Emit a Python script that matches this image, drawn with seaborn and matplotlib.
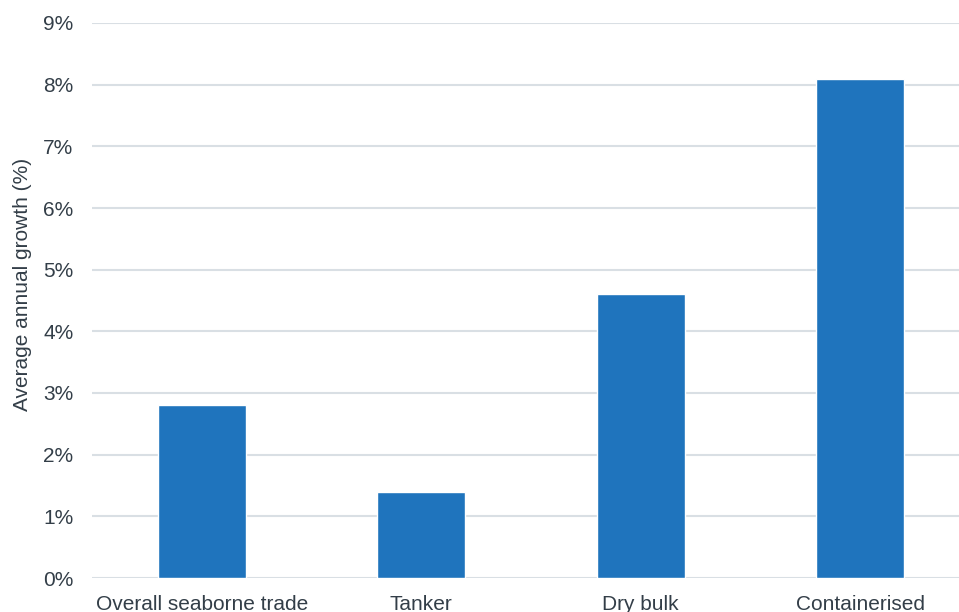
import matplotlib
matplotlib.use("Agg")
import matplotlib.pyplot as plt
import pandas as pd
import seaborn as sns
from matplotlib.ticker import FuncFormatter

categories = ["Overall seaborne trade", "Tanker", "Dry bulk", "Containerised"]
growth = [2.8, 1.4, 4.6, 8.1]
y_ticks = [0, 1, 2, 3, 4, 5, 6, 7, 8, 9]

df = pd.DataFrame({"category": categories, "growth": growth})

sns.set_theme(style="white")
plt.rcParams["font.family"] = ["Liberation Sans", "DejaVu Sans"]

text_color = "#333e48"
grid_color = "#d9dfe4"

fig = plt.figure(figsize=(9.59, 6.12), dpi=100)
ax = fig.add_axes([92 / 959, 34 / 612, 878 / 959, 555 / 612])

sns.barplot(data=df, x="category", y="growth", color="#1f74bd",
            width=0.4, saturation=1, ax=ax, zorder=3)

ax.set_xlim(-0.5, 3.5)
ax.set_ylim(0, 9)
ax.set_yticks(y_ticks)
ax.yaxis.set_major_formatter(FuncFormatter(lambda v, p: f"{v:.0f}%"))
ax.yaxis.grid(True, color=grid_color, linewidth=1.5, zorder=0)
ax.set_axisbelow(True)

for s in ax.spines.values():
    s.set_visible(False)

ax.tick_params(axis="y", length=0, pad=13.5, labelsize=15, labelcolor=text_color)
ax.tick_params(axis="x", length=0, pad=12.5, labelsize=15, labelcolor=text_color)
ax.set_xlabel("")
ax.set_ylabel("Average annual growth (%)", fontsize=15, color=text_color)
ax.yaxis.set_label_coords(-60 / 878, (578 - 284) / 555)

fig.savefig("out.png", dpi=100)
